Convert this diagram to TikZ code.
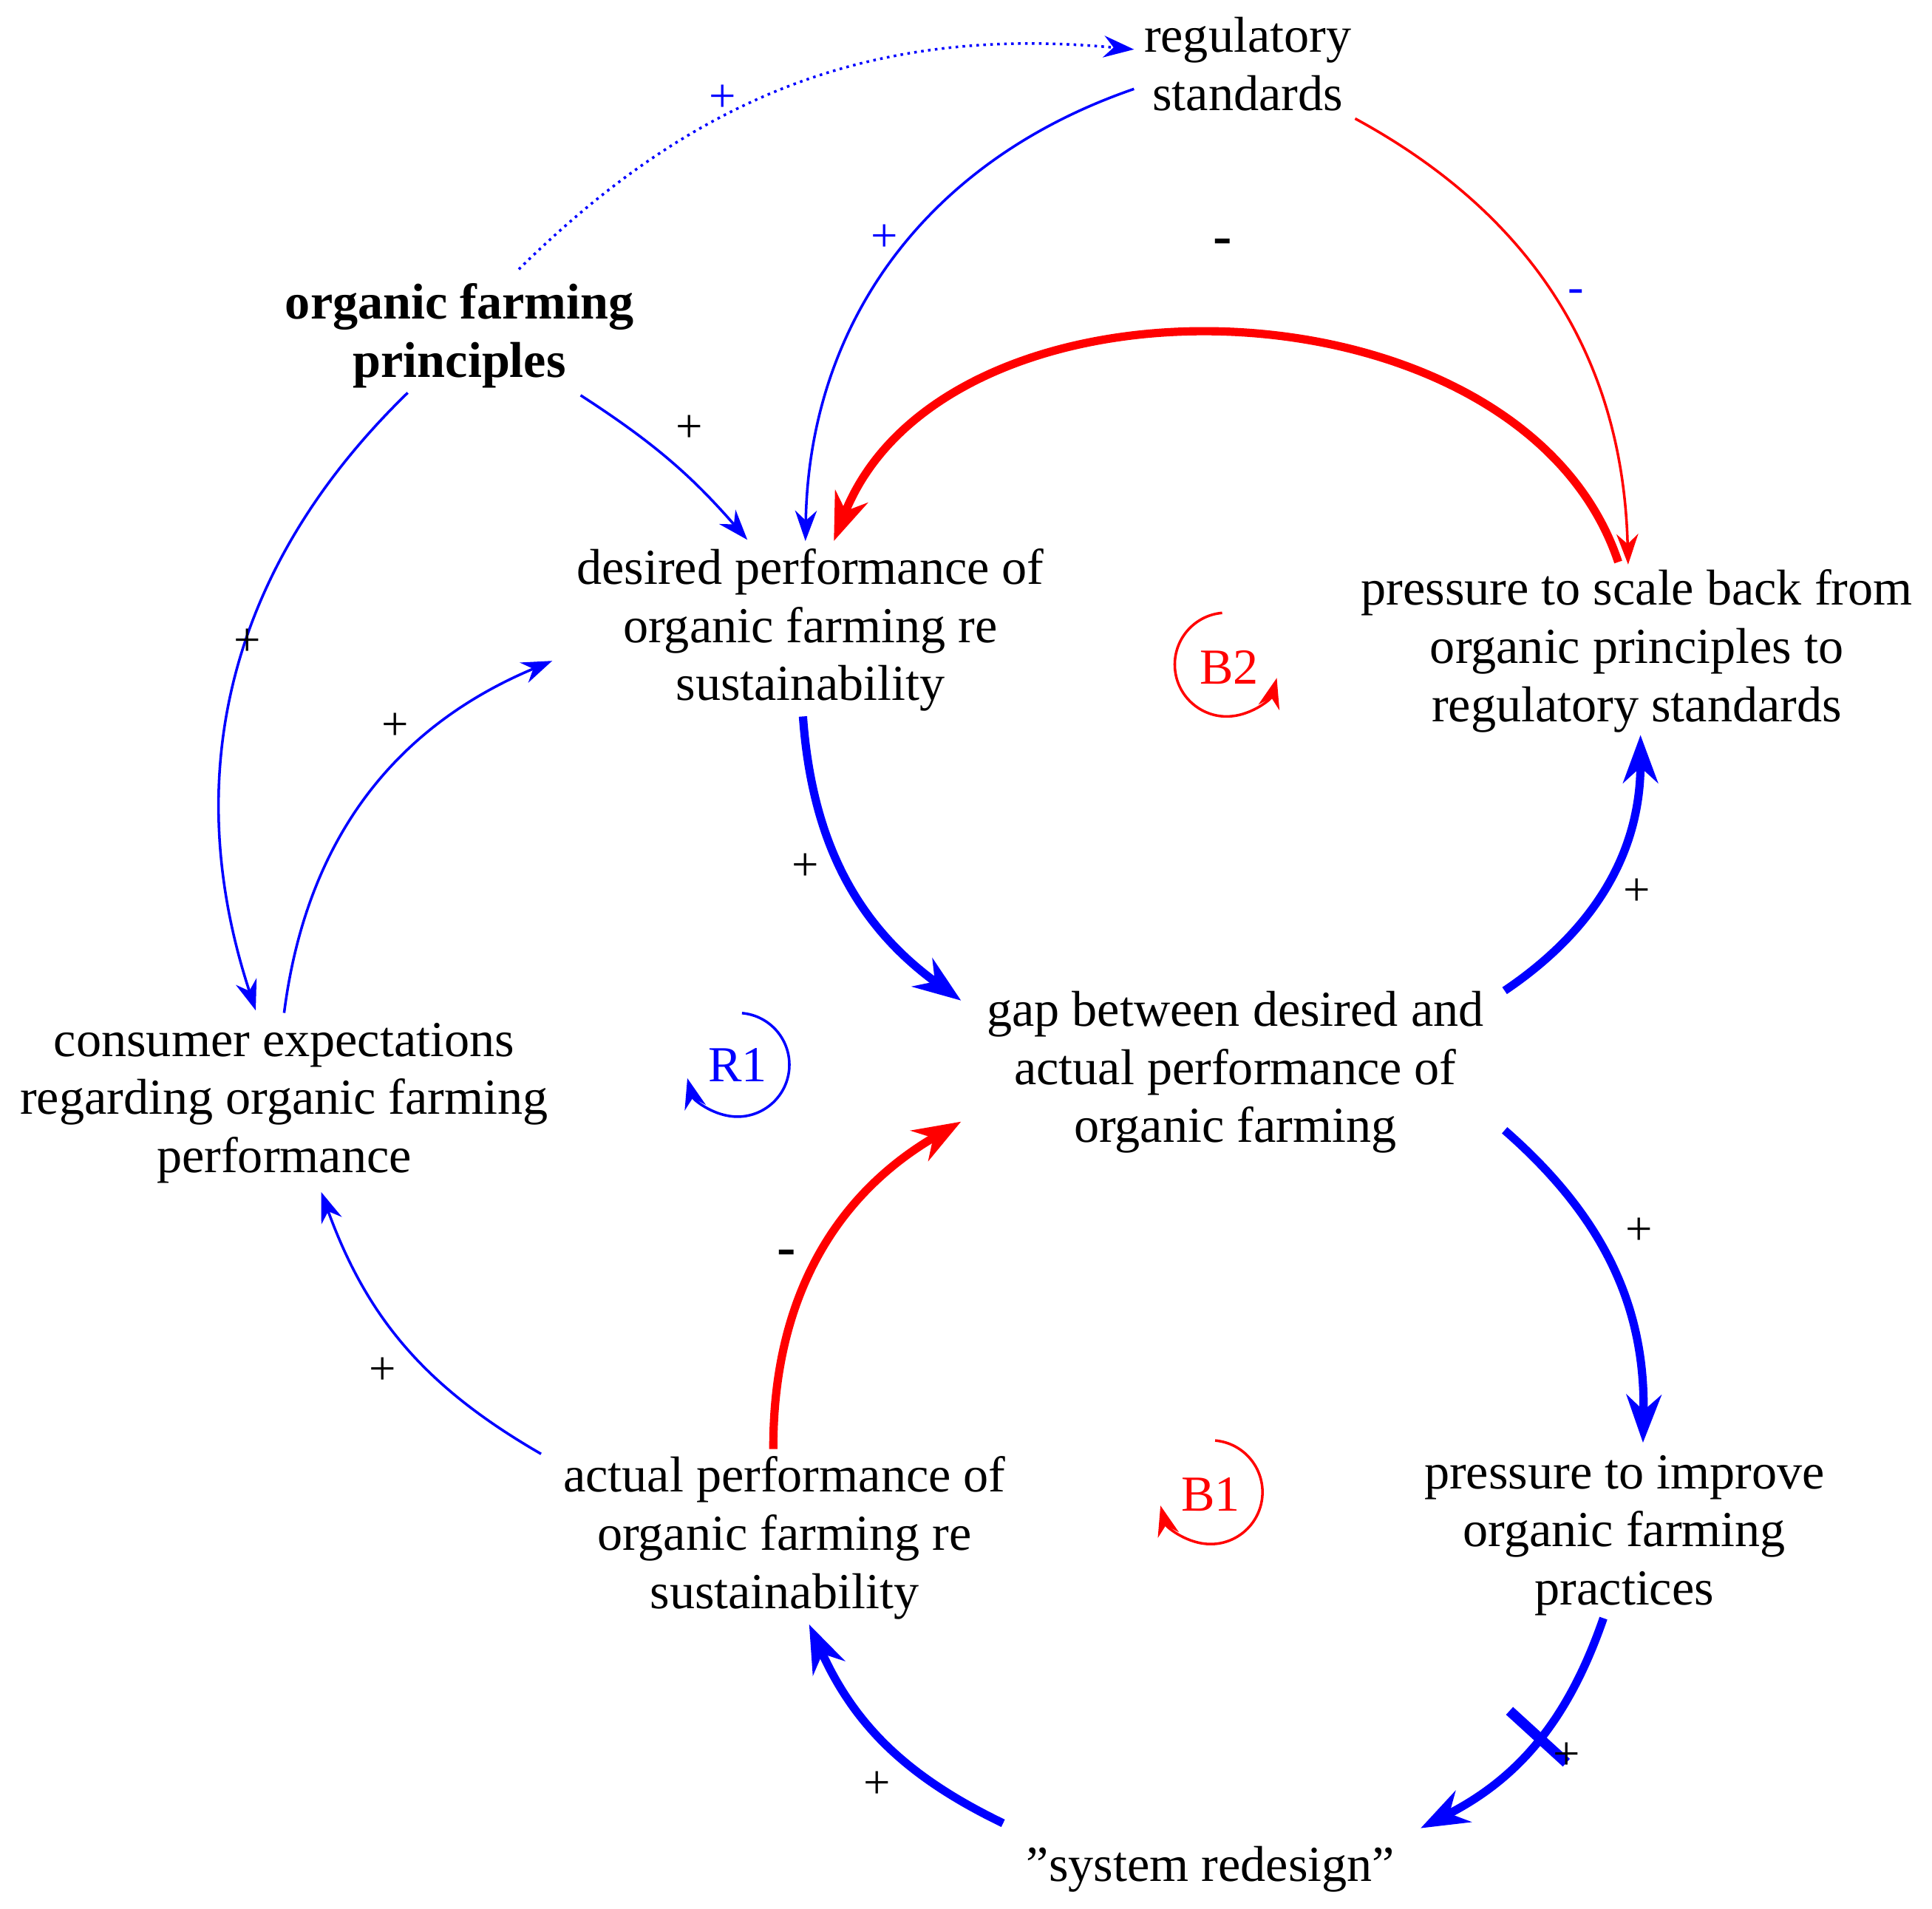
\documentclass[tikz,border=0pt]{standalone}
\usepackage{fontspec}
\setmainfont{Liberation Serif}
\usetikzlibrary{arrows.meta,calc}
\begin{document}
\begin{tikzpicture}[x=0.01cm,y=0.01cm,
 var/.style={align=center,font=\fontsize{11.6}{13.4}\selectfont,inner sep=0pt},
 thin/.style={blue,line width=0.6pt,-{Stealth[length=7pt,width=5pt]}},
 thinr/.style={red,line width=0.6pt,-{Stealth[length=7pt,width=5pt]}},
 thick/.style={blue,line width=1.9pt,-{Stealth[length=11pt,width=8pt]}},
 thickr/.style={red,line width=1.9pt,-{Stealth[length=11pt,width=8pt]}},
 pol/.style={font=\fontsize{11}{13}\selectfont}]
\useasboundingbox (0,0) rectangle (1564,-1545);
\node[var] (reg) at (1010,-52) {regulatory\\standards};
\node[var,font=\fontsize{11.6}{13.4}\selectfont\bfseries] (ofp) at (372,-272) {organic farming\\principles};
\node[var] (des) at (656,-510) {desired performance of\\organic farming re\\sustainability};
\node[var] (press) at (1325,-527) {pressure to scale back from\\organic principles to\\regulatory standards};
\node[var] (gap) at (1000,-868) {gap between desired and\\actual performance of\\organic farming};
\node[var] (cons) at (230,-893) {consumer expectations\\regarding organic farming\\performance};
\node[var] (act) at (635,-1245) {actual performance of\\organic farming re\\sustainability};
\node[var] (imp) at (1315,-1243) {pressure to improve\\organic farming\\practices};
\node[var] (sys) at (980,-1513) {"system redesign"};

\draw[thin,densely dotted] ([shift={(48,54)}]ofp.center) to[bend left=25] ([shift={(-92,12)}]reg.center);
\draw[thin] ([shift={(-92,-20)}]reg.center) to[bend right=35] ([shift={(-4,72)}]des.center);
\draw[thinr] ([shift={(87,-44)}]reg.center) to[bend left=30] ([shift={(-7,70)}]press.center);
\draw[thickr] ([shift={(-15,72)}]press.center) to[bend right=70] ([shift={(19,72)}]des.center);
\draw[thin] ([shift={(98,-48)}]ofp.center) to[bend left=8] ([shift={(-51,73)}]des.center);
\draw[thin] ([shift={(-42,-46)}]ofp.center) to[bend right=32] ([shift={(-23,75)}]cons.center);
\draw[thin] ([shift={(0,73)}]cons.center) to[bend left=30] ([shift={(-209,-25)}]des.center);
\draw[thick] ([shift={(-6,-70)}]des.center) to[bend right=25] ([shift={(-222,58)}]gap.center);
\draw[thick] ([shift={(218,66)}]gap.center) to[bend right=28] ([shift={(3,-68)}]press.center);
\draw[thick] ([shift={(218,-47)}]gap.center) to[bend left=25] ([shift={(15,75)}]imp.center);
\draw[thick] ([shift={(-17,-67)}]imp.center) to[bend left=22] ([shift={(170,33)}]sys.center);
\draw[thick] ([shift={(-168,37)}]sys.center) to[bend left=20] ([shift={(20,-70)}]act.center);
\draw[thickr] ([shift={(-9,72)}]act.center) to[bend left=30] ([shift={(-222,-40)}]gap.center);
\draw[thin] ([shift={(-197,68)}]act.center) to[bend left=20] ([shift={(30,-72)}]cons.center);
\draw[blue,line width=2.4pt] (1222,-1385) -- (1268,-1427);

\node[pol,blue] (p1) at (585,-80) {+};
\node[pol,blue] (p2) at (716,-193) {+};
\node[pol,blue] (p3) at (1276,-240) {-};
\node[pol,font=\fontsize{13}{13}\selectfont\bfseries] (p4) at (990,-200) {-};
\node[pol] (p5) at (558,-347) {+};
\node[pol] (p6) at (200,-520) {+};
\node[pol] (p7) at (320,-588) {+};
\node[pol] (p8) at (652,-702) {+};
\node[pol] (p9) at (1325,-722) {+};
\node[pol] (p10) at (1327,-997) {+};
\node[pol] (p11) at (1268,-1422) {+};
\node[pol] (p12) at (710,-1445) {+};
\node[pol,font=\fontsize{13}{13}\selectfont\bfseries] (p13) at (637,-1018) {-};
\node[pol] (p14) at (310,-1110) {+};

\node[var,red] (b2) at (995,-540) {B2};
\draw[red,line width=0.6pt,-{Stealth[length=7pt,width=5pt]}] (993,-538) ++(95:42) arc[start angle=95,end angle=345,radius=42];
\node[var,blue] (r1) at (597,-862) {R1};
\draw[blue,line width=0.6pt,-{Stealth[length=7pt,width=5pt]}] (597,-862) ++(85:42) arc[start angle=85,end angle=-165,radius=42];
\node[var,red] (b1) at (980,-1210) {B1};
\draw[red,line width=0.6pt,-{Stealth[length=7pt,width=5pt]}] (980,-1208) ++(85:42) arc[start angle=85,end angle=-165,radius=42];
\end{tikzpicture}
\end{document}
